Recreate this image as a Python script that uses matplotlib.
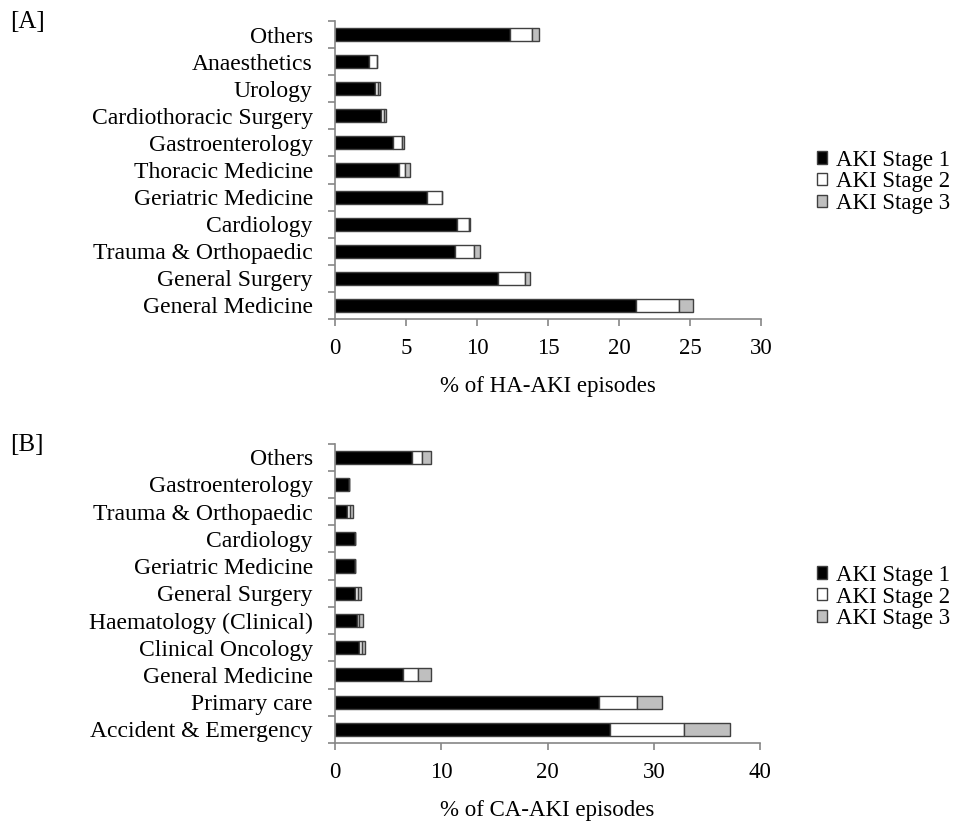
import numpy as np
import matplotlib.pyplot as plt

plt.rcParams['font.family'] = ['Liberation Serif', 'DejaVu Serif']

# Panel A: hospital-acquired AKI by specialty (bottom to top)
ha_specialty = ['General Medicine', 'General Surgery', 'Trauma & Orthopaedic',
                'Cardiology', 'Geriatric Medicine', 'Thoracic Medicine',
                'Gastroenterology', 'Cardiothoracic Surgery', 'Urology',
                'Anaesthetics', 'Others']
ha_stage1 = [21.2, 11.5, 8.45, 8.6, 6.5, 4.5, 4.1, 3.25, 2.85, 2.4, 12.3]
ha_stage2 = [3.0, 1.9, 1.35, 0.85, 1.0, 0.45, 0.6, 0.2, 0.15, 0.55, 1.6]
ha_stage3 = [1.0, 0.3, 0.4, 0.05, 0.05, 0.3, 0.15, 0.15, 0.15, 0.0, 0.5]

# Panel B: community-acquired AKI by specialty (bottom to top)
ca_specialty = ['Accident & Emergency', 'Primary care', 'General Medicine',
                'Clinical Oncology', 'Haematology (Clinical)', 'General Surgery',
                'Geriatric Medicine', 'Cardiology', 'Trauma & Orthopaedic',
                'Gastroenterology', 'Others']
ca_stage1 = [25.9, 24.8, 6.4, 2.3, 2.1, 1.9, 1.9, 1.9, 1.15, 1.3, 7.2]
ca_stage2 = [6.95, 3.65, 1.4, 0.2, 0.2, 0.25, 0.0, 0.0, 0.3, 0.0, 1.0]
ca_stage3 = [4.35, 2.3, 1.2, 0.3, 0.3, 0.3, 0.0, 0.0, 0.25, 0.0, 0.8]

stage_names = ['AKI Stage 1', 'AKI Stage 2', 'AKI Stage 3']
fills = ['#000000', '#ffffff', '#bfbfbf']
edge = '#404040'
spine_col = '#868686'
fs = 16.5

W, H = 956, 823


def draw_panel(ax, names, s1, s2, s3, xmax, step, xlabel, leg_y):
    y = np.arange(len(names))
    left = np.zeros(len(names))
    for vals, c, lab in zip([s1, s2, s3], fills, stage_names):
        vals = np.array(vals)
        ax.barh(y, vals, left=left, height=0.48, color=c, edgecolor=edge,
                linewidth=1.0, label=lab)
        left = left + vals
    ax.set_ylim(-0.5, len(names) - 0.5)
    ax.set_xlim(0, xmax)
    ax.set_xticks(np.arange(0, xmax + 1, step))
    ax.set_yticks(y)
    ax.set_yticklabels(names, fontsize=fs + 0.5)
    # ticks on the category boundaries
    ax.set_yticks(np.arange(-0.5, len(names), 1), minor=True)
    ax.tick_params(axis='y', which='major', length=0, pad=16)
    ax.tick_params(axis='y', which='minor', length=5, color=spine_col, width=1.2)
    ax.tick_params(axis='x', length=5, color=spine_col, width=1.2,
                   labelsize=fs, pad=9)
    for side in ['top', 'right']:
        ax.spines[side].set_visible(False)
    for side in ['left', 'bottom']:
        ax.spines[side].set_color(spine_col)
        ax.spines[side].set_linewidth(1.2)
    ax.set_xlabel(xlabel, fontsize=fs, labelpad=12)
    h, l = ax.get_legend_handles_labels()
    ax.legend(h, l, loc='center left', bbox_to_anchor=(808 / W, 1 - leg_y / H),
              bbox_transform=fig.transFigure, frameon=False, fontsize=fs,
              handlelength=0.45, handleheight=0.45, handletextpad=0.35,
              labelspacing=0.03, borderaxespad=0)


fig = plt.figure(figsize=(W / 100, H / 100), dpi=100)
ax1 = fig.add_axes([335 / W, 1 - 319 / H, 426 / W, 298 / H])
ax2 = fig.add_axes([335 / W, 1 - 743 / H, 425 / W, 299.5 / H])

draw_panel(ax1, ha_specialty, ha_stage1, ha_stage2, ha_stage3, 30, 5,
           '% of HA-AKI episodes', 182)
draw_panel(ax2, ca_specialty, ca_stage1, ca_stage2, ca_stage3, 40, 10,
           '% of CA-AKI episodes', 597)

fig.text(10 / W, 1 - 22 / H, '[A]', fontsize=18, va='center', ha='left')
fig.text(10 / W, 1 - 445 / H, '[B]', fontsize=18, va='center', ha='left')

fig.savefig('out.png', dpi=100)
